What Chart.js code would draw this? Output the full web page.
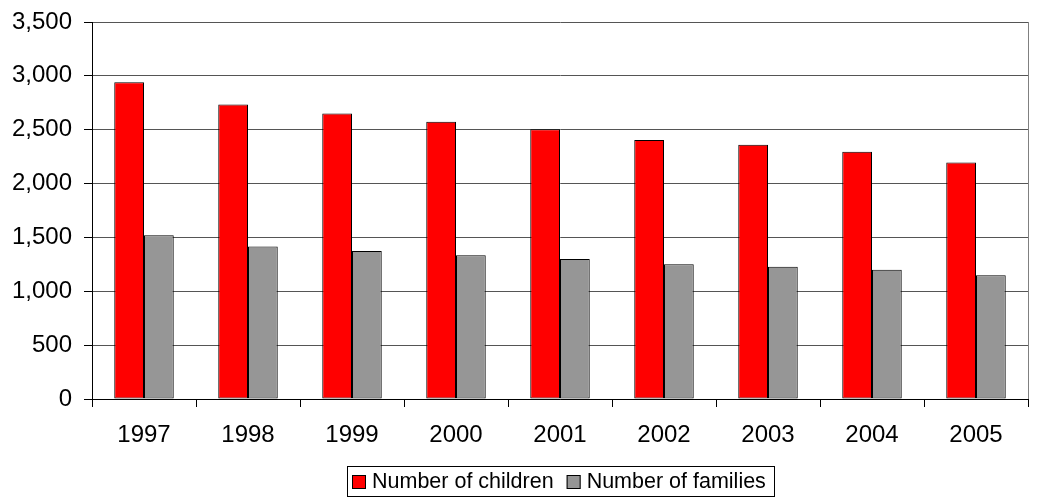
<!DOCTYPE html>
<html>
<head>
<meta charset="utf-8">
<script src="https://cdn.jsdelivr.net/npm/chart.js@4.4.1/dist/chart.umd.min.js"></script>
<style>
  html, body { margin: 0; padding: 0; background: #fff; }
  #wrap { width: 1040px; height: 498px; position: relative; }
</style>
</head>
<body>
<div id="wrap"><canvas id="c" width="1040" height="498"></canvas></div>
<script>
const years = ['1997','1998','1999','2000','2001','2002','2003','2004','2005'];
const children = [2940, 2735, 2650, 2575, 2505, 2405, 2360, 2295, 2195];
const families = [1520, 1415, 1375, 1335, 1300, 1252, 1228, 1200, 1150];
const seriesNames = ['Number of children', 'Number of families'];
const seriesColors = ['#ff0000', '#969696'];
const yMin = 0, yMax = 3500, yStep = 500;

const FONT = "'Liberation Sans', Arial, sans-serif";

const frame = {
  id: 'frame',
  afterDraw(chart) {
    const ctx = chart.ctx, a = chart.chartArea;
    ctx.save();
    // right edge of plot area
    ctx.strokeStyle = '#808080';
    ctx.lineWidth = 1;
    ctx.beginPath();
    ctx.moveTo(Math.round(a.right) + 0.5, a.top);
    ctx.lineTo(Math.round(a.right) + 0.5, a.bottom);
    ctx.stroke();

    // legend (boxed, centered under plot area)
    const fontSize = 21.5;
    ctx.font = fontSize + 'px ' + FONT;
    const sq = 14, gapText = 6, gapItem = 13, padL = 5, padR = 8;
    const widths = chart.data.datasets.map(d => ctx.measureText(d.label).width);
    let total = padL + padR;
    widths.forEach((w, i) => { total += sq + gapText + w + (i < widths.length - 1 ? gapItem : 0); });
    const cx = (a.left + a.right) / 2;
    const left = Math.round(cx - total / 2);
    const top = 466, h = 30, cy = top + h / 2 + 1;
    ctx.strokeStyle = '#000';
    ctx.strokeRect(left + 0.5, top + 0.5, Math.round(total), h);
    let x = left + padL;
    chart.data.datasets.forEach((d, i) => {
      ctx.fillStyle = d.backgroundColor;
      ctx.fillRect(x, cy - sq / 2, sq, sq);
      ctx.strokeStyle = '#000';
      ctx.strokeRect(x + 0.5, Math.round(cy - sq / 2) + 0.5, sq - 1, sq - 1);
      x += sq + gapText;
      ctx.fillStyle = '#000';
      ctx.textBaseline = 'middle';
      ctx.textAlign = 'left';
      ctx.fillText(d.label, x, cy);
      x += widths[i] + gapItem;
    });
    ctx.restore();
  }
};

new Chart(document.getElementById('c'), {
  type: 'bar',
  data: {
    labels: years,
    datasets: [
      { label: seriesNames[0], data: children, backgroundColor: seriesColors[0], borderColor: '#000', borderWidth: 1, borderSkipped: false },
      { label: seriesNames[1], data: families, backgroundColor: seriesColors[1], borderColor: '#000', borderWidth: 1, borderSkipped: false }
    ]
  },
  options: {
    responsive: false,
    animation: false,
    devicePixelRatio: 1,
    layout: { padding: { top: 22, right: 12, left: 0, bottom: 41 } },
    datasets: { bar: { categoryPercentage: 0.572, barPercentage: 1.0 } },
    plugins: {
      legend: { display: false },
      tooltip: { enabled: false }
    },
    scales: {
      x: {
        grid: { offset: true, drawOnChartArea: false, tickLength: 8, color: '#000', tickColor: '#000' },
        border: { color: '#000', width: 1 },
        ticks: { font: { family: FONT, size: 24 }, color: '#000', padding: 14, maxRotation: 0 },
        afterFit(s) { s.height = 58; s.paddingLeft = 0; s.paddingRight = 0; }
      },
      y: {
        min: yMin, max: yMax,
        grid: { color: '#555', tickLength: 8, tickColor: '#000' },
        border: { color: '#000', width: 1 },
        ticks: { stepSize: yStep, font: { family: FONT, size: 24 }, color: '#000', padding: 12 },
        afterFit(s) { s.width = 92; s.paddingTop = 0; s.paddingBottom = 0; }
      }
    }
  },
  plugins: [frame]
});
</script>
</body>
</html>
